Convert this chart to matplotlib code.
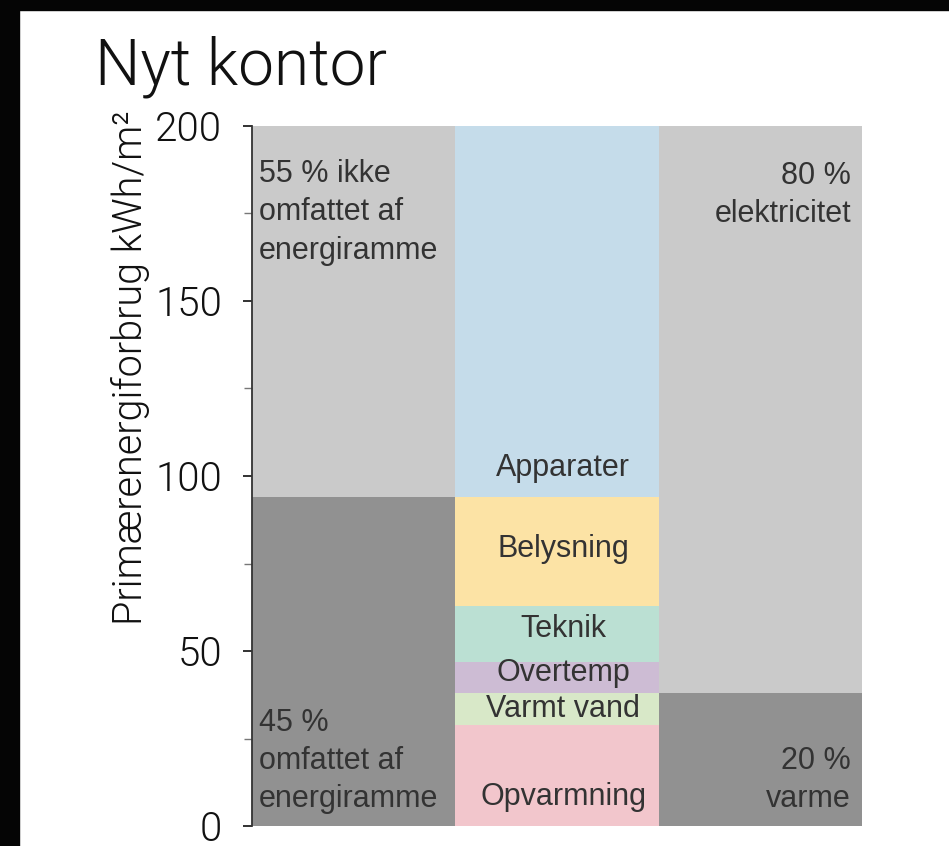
import matplotlib
matplotlib.use("Agg")
import matplotlib.pyplot as plt
from matplotlib.patches import Rectangle
from matplotlib.ticker import MultipleLocator

plt.rcParams['font.family'] = ['Liberation Sans', 'DejaVu Sans']

# Data
columns = [0, 1, 2]
frame_values = [94, 106]
uses = ["Opvarmning", "Varmt vand", "Overtemp", "Teknik", "Belysning", "Apparater"]
use_values = [29, 9, 9, 16, 31, 106]
use_colors = ["#f2c6cc", "#d8e8c8", "#cdbcd4", "#bbe0d3", "#fce3a5", "#c5dcea"]
carrier_values = [38, 162]

dark = "#919191"
light = "#cacaca"
txt = "#333333"
thin = ['Roboto', 'DejaVu Sans']

fig = plt.figure(figsize=(9.49, 8.46), dpi=100)
ax = fig.add_axes([252/949, 20/846, 610/949, 700/846])

ax.bar(columns[0], frame_values[0], width=1.0, color=dark, linewidth=0)
ax.bar(columns[0], frame_values[1], bottom=frame_values[0], width=1.0, color=light, linewidth=0)

bottom = 0
for name, v, c in zip(uses, use_values, use_colors):
    ax.bar(columns[1], v, bottom=bottom, width=1.0, color=c, linewidth=0)
    bottom += v

ax.bar(columns[2], carrier_values[0], width=1.0, color=dark, linewidth=0)
ax.bar(columns[2], carrier_values[1], bottom=carrier_values[0], width=1.0, color=light, linewidth=0)

ax.set_xlim(-0.5, 2.5)
ax.set_ylim(0, 200)

fs = 22
label_y = {"Apparater": 102.3, "Belysning": 79.1, "Teknik": 56.3,
           "Overtemp": 43.7, "Varmt vand": 33.4, "Opvarmning": 8.3}
for name in uses:
    ax.text(columns[1] + 0.03, label_y[name], name, ha="center", va="center",
            fontsize=fs, color=txt)

ls = 1.35
ax.text(-0.466, 175.3, "55 % ikke\nomfattet af\nenergiramme", ha="left", va="center",
        fontsize=fs, color=txt, linespacing=ls)
ax.text(-0.466, 18.7, "45 %\nomfattet af\nenergiramme", ha="left", va="center",
        fontsize=fs, color=txt, linespacing=ls)
ax.text(2.446, 180.3, "80 %\nelektricitet", ha="right", va="center",
        fontsize=fs, color=txt, linespacing=ls)
ax.text(2.446, 13.2, "20 %\nvarme", ha="right", va="center",
        fontsize=fs, color=txt, linespacing=ls)

for s in ["top", "right", "bottom"]:
    ax.spines[s].set_visible(False)
ax.spines["left"].set_color("#333333")
ax.spines["left"].set_linewidth(1.3)
ax.set_xticks([])
ax.yaxis.set_major_locator(MultipleLocator(50))
ax.yaxis.set_minor_locator(MultipleLocator(25))
ax.tick_params(axis="y", which="major", length=6.5, width=1.3, color="#222222",
               labelsize=29, pad=15, labelcolor="#111111")
ax.tick_params(axis="y", which="minor", length=5.8, width=1.0, color="#777777")
for lab in ax.get_yticklabels():
    lab.set_family(thin)
    lab.set_fontweight(300)
ax.set_ylabel("Primærenergiforbrug kWh/m²", fontsize=28.5, color="#111111",
              family=thin, fontweight=300)
ax.yaxis.set_label_coords(-0.167, 0.655)

fig.text(95/949, 1 - 85/846, "Nyt kontor", fontsize=46, ha="left", va="baseline",
         color="#111111", family=thin, fontweight=300)

fig.patches.append(Rectangle((0, 1 - 10/846), 1, 10/846, transform=fig.transFigure,
                             color="#050505", zorder=10))
fig.patches.append(Rectangle((0, 0), 19/949, 1, transform=fig.transFigure,
                             color="#050505", zorder=10))

fig.savefig("out.png", dpi=100)
